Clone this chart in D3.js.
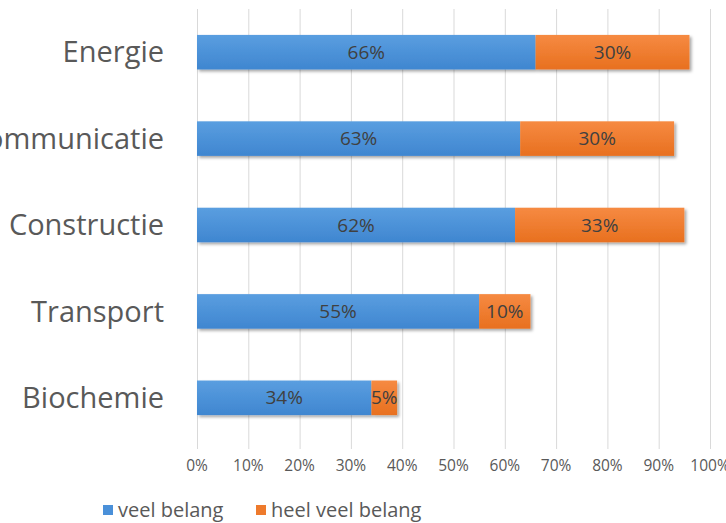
<!DOCTYPE html>
<html>
<head>
<meta charset="utf-8">
<script src="https://cdn.jsdelivr.net/npm/d3@7"></script>
<style>
  html, body { margin: 0; padding: 0; background: #fff; }
  svg { display: block; }
  text { font-family: "Open Sans", sans-serif; }
</style>
</head>
<body>
<svg id="chart" width="726" height="523"></svg>
<script>
// Sector names, top to bottom
const categories = ["Energie", "Communicatie", "Constructie", "Transport", "Biochemie"];
// Share answering "veel belang" (%)
const veelBelang = [66, 63, 62, 55, 34];
// Share answering "heel veel belang" (%)
const heelVeelBelang = [30, 30, 33, 10, 5];
// Axis ticks (%)
const xTicks = [0, 10, 20, 30, 40, 50, 60, 70, 80, 90, 100];
const seriesNames = ["veel belang", "heel veel belang"];

const svg = d3.select("#chart");
const plot = { left: 197, right: 710, top: 9, bottom: 441 };

const x = d3.scaleLinear().domain([0, 100]).range([plot.left, plot.right]);
const y = d3.scaleBand().domain(categories).range([plot.top, plot.bottom]).paddingInner(0.6).paddingOuter(0.3);

const defs = svg.append("defs");
function grad(id, top, bottom) {
  const g = defs.append("linearGradient").attr("id", id).attr("x1", 0).attr("y1", 0).attr("x2", 0).attr("y2", 1);
  g.append("stop").attr("offset", "0%").attr("stop-color", top);
  g.append("stop").attr("offset", "100%").attr("stop-color", bottom);
}
grad("gBlue", "#5a9ee0", "#3f86d0");
grad("gOrange", "#f68a42", "#e8701f");
const f = defs.append("filter").attr("id", "shadow").attr("x", "-10%").attr("y", "-30%").attr("width", "130%").attr("height", "180%");
f.append("feDropShadow").attr("dx", 2).attr("dy", 2).attr("stdDeviation", 1.8).attr("flood-color", "#000").attr("flood-opacity", 0.35);

// Vertical gridlines
svg.append("g").selectAll("line").data(xTicks).join("line")
  .attr("x1", d => x(d) + 0.5).attr("x2", d => x(d) + 0.5)
  .attr("y1", plot.top).attr("y2", plot.bottom + 8)
  .attr("stroke", "#d9d9d9").attr("stroke-width", 1);

// Tick labels
svg.append("g").selectAll("text").data(xTicks).join("text")
  .attr("x", d => x(d)).attr("y", 466)
  .attr("dy", "0.35em")
  .attr("text-anchor", "middle")
  .attr("font-size", 15.5).attr("fill", "#595959")
  .text(d => d + "%");

// Category labels
svg.append("g").selectAll("text").data(categories).join("text")
  .attr("x", 164).attr("y", d => y(d) + y.bandwidth() / 2)
  .attr("dy", "0.35em").attr("text-anchor", "end")
  .attr("font-size", 29).attr("fill", "#595959")
  .text(d => d);

// Stacked bars
const rows = categories.map((c, i) => ({ c, a: veelBelang[i], b: heelVeelBelang[i] }));
const barG = svg.append("g");
rows.forEach(r => {
  const g = barG.append("g").attr("filter", "url(#shadow)");
  g.append("rect").attr("x", x(0)).attr("y", y(r.c)).attr("width", x(r.a) - x(0)).attr("height", y.bandwidth()).attr("fill", "url(#gBlue)");
  g.append("rect").attr("x", x(r.a)).attr("y", y(r.c)).attr("width", x(r.a + r.b) - x(r.a)).attr("height", y.bandwidth()).attr("fill", "url(#gOrange)");
});

// Value labels
const lab = svg.append("g").attr("font-size", 19).attr("fill", "#404040").attr("text-anchor", "middle");
rows.forEach(r => {
  lab.append("text").attr("x", (x(0) + x(r.a)) / 2).attr("y", y(r.c) + y.bandwidth() / 2).attr("dy", "0.35em").text(r.a + "%");
  lab.append("text").attr("x", (x(r.a) + x(r.a + r.b)) / 2).attr("y", y(r.c) + y.bandwidth() / 2).attr("dy", "0.35em").text(r.b + "%");
});

// Legend
const legendColors = ["#4a90d9", "#ee7a2c"];
const legendX = [103, 256];
const lg = svg.append("g");
seriesNames.forEach((n, i) => {
  lg.append("rect").attr("x", legendX[i]).attr("y", 505).attr("width", 10).attr("height", 10).attr("fill", legendColors[i]);
  lg.append("text").attr("x", legendX[i] + 15).attr("y", 510).attr("dy", "0.35em").attr("font-size", 20).attr("fill", "#595959").text(n);
});
</script>
</body>
</html>
